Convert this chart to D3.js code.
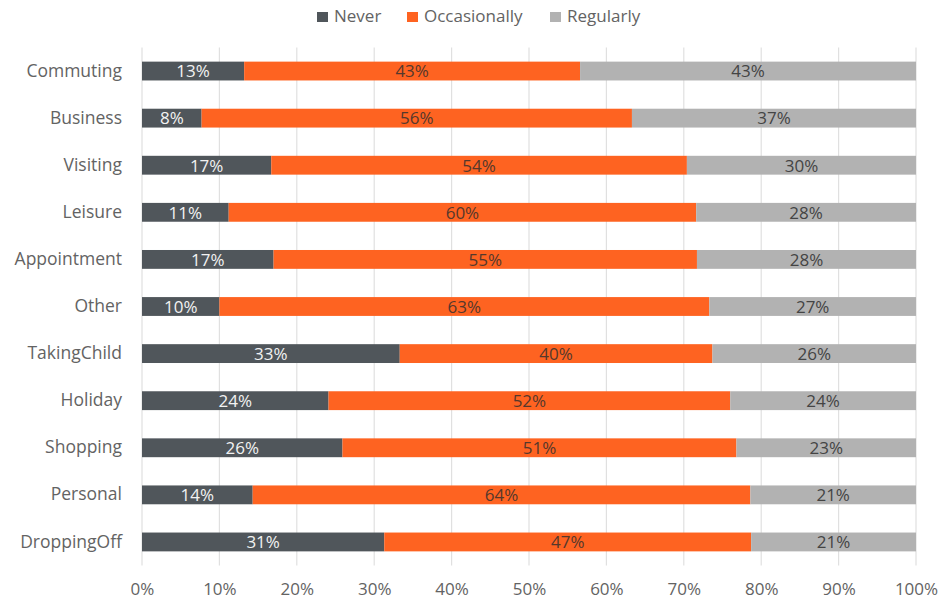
<!DOCTYPE html>
<html>
<head>
<meta charset="utf-8">
<script src="https://cdn.jsdelivr.net/npm/d3@7"></script>
<style>
  html, body { margin: 0; padding: 0; background: #fff; }
  svg text { font-family: "Open Sans", Lato, sans-serif; }
</style>
</head>
<body>
<svg id="chart" width="940" height="604"></svg>
<script>
// Trip purposes, top to bottom
const categories = ["Commuting", "Business", "Visiting", "Leisure", "Appointment", "Other",
  "TakingChild", "Holiday", "Shopping", "Personal", "DroppingOff"];

// Share of respondents (%) per frequency
const never        = [13.2, 7.7, 16.7, 11.2, 17.0, 10.0, 33.3, 24.1, 25.9, 14.3, 31.3];
const occasionally = [43.4, 55.6, 53.7, 60.4, 54.7, 63.3, 40.4, 51.9, 50.9, 64.3, 47.4];
const regularly    = [43.4, 36.7, 29.6, 28.4, 28.3, 26.7, 26.3, 24.0, 23.2, 21.4, 21.3];

const seriesNames = ["Never", "Occasionally", "Regularly"];
const xTicks = [0, 10, 20, 30, 40, 50, 60, 70, 80, 90, 100];

const colors = { Never: "#50565b", Occasionally: "#fe6321", Regularly: "#b2b2b2" };
const labelColors = { Never: "#f2f2f2", Occasionally: "#55382c", Regularly: "#444444" };
const textFont = "'Open Sans', Lato, sans-serif";
const axisColor = "#636363";

const rows = categories.map((c, i) => ({
  category: c, Never: never[i], Occasionally: occasionally[i], Regularly: regularly[i]
}));

const svg = d3.select("#chart");
const plotLeft = 142, plotRight = 916, plotTop = 47.5, plotBottom = 565.5;

const x = d3.scaleLinear().domain([0, 100]).range([plotLeft, plotRight]);
const y = d3.scaleBand().domain(categories).range([plotTop, plotBottom])
  .paddingInner(0.6).paddingOuter(0.3);

// Vertical gridlines
svg.append("g").selectAll("line").data(xTicks).join("line")
  .attr("x1", d => x(d)).attr("x2", d => x(d))
  .attr("y1", plotTop).attr("y2", plotBottom)
  .attr("stroke", "#e0e0e0").attr("stroke-width", 1.2);

// Stacked segments
const stacked = d3.stack().keys(seriesNames)(rows);

const layers = svg.append("g").selectAll("g").data(stacked).join("g")
  .attr("fill", d => colors[d.key]);

layers.selectAll("rect").data(d => d.map(s => ({ key: d.key, s }))).join("rect")
  .attr("x", d => x(d.s[0]))
  .attr("width", d => x(d.s[1]) - x(d.s[0]))
  .attr("y", d => y(d.s.data.category))
  .attr("height", y.bandwidth());

// Value labels centred in each segment
const fmt = v => d3.format(".0f")(v) + "%";
svg.append("g").selectAll("g").data(stacked).join("g")
  .attr("fill", d => labelColors[d.key])
  .selectAll("text").data(d => d.map(s => ({ key: d.key, s }))).join("text")
  .attr("x", d => (x(d.s[0]) + x(d.s[1])) / 2)
  .attr("y", d => y(d.s.data.category) + y.bandwidth() / 2)
  .attr("dy", "0.37em")
  .attr("text-anchor", "middle")
  .attr("font-size", 17)
  .text(d => fmt(d.s.data[d.key]));

// Category axis
const yAxis = svg.append("g")
  .attr("transform", `translate(${plotLeft},0)`)
  .call(d3.axisLeft(y).tickSize(0).tickPadding(20));
yAxis.select(".domain").remove();
yAxis.selectAll("text").attr("font-size", 17.5).attr("fill", axisColor)
  .style("font-family", textFont);

// Percentage axis
const xAxis = svg.append("g")
  .attr("transform", `translate(0,${plotBottom})`)
  .call(d3.axisBottom(x).tickValues(xTicks).tickFormat(d => d + "%").tickSize(0).tickPadding(17));
xAxis.select(".domain").remove();
xAxis.selectAll("text").attr("font-size", 17).attr("fill", axisColor)
  .style("font-family", textFont);

// Legend
const legendX = [317, 407, 550];
const legend = svg.append("g").selectAll("g").data(seriesNames).join("g")
  .attr("transform", (d, i) => `translate(${legendX[i]},17)`);
legend.append("rect").attr("x", 0).attr("y", -5).attr("width", 11).attr("height", 10)
  .attr("fill", d => colors[d]);
legend.append("text").attr("x", 17).attr("y", 5)
  .attr("font-size", 17).attr("fill", axisColor).text(d => d);
</script>
</body>
</html>
